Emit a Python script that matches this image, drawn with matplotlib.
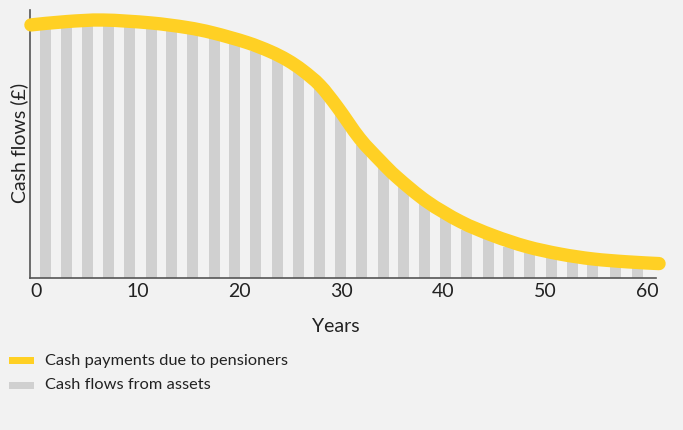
import matplotlib
matplotlib.use("Agg")
import numpy as np
import matplotlib.pyplot as plt
from matplotlib.patches import Rectangle, PathPatch
from matplotlib.path import Path

plt.rcParams['font.family'] = ['Lato', 'DejaVu Sans']

# pension payments due (yellow curve), arbitrary £ units
pay_years = [-0.5, 3.0, 6.6, 11.2, 14.8, 17.4, 20.7, 23.0, 24.7, 26.2, 27.9,
             29.6, 31.8, 33.8, 35.5, 38.4, 41.7, 44.9, 48.2, 51.5, 54.7,
             58.0, 61.2]
pay_values = [98.1, 99.4, 100.0, 98.9, 97.1, 95.0, 91.3, 87.8, 84.4, 80.4, 74.6,
              66.2, 54.0, 45.4, 38.8, 29.5, 21.7, 16.3, 12.0, 9.1, 7.2,
              6.1, 5.4]

# cash flows from assets (grey bars)
asset_years = [0.9, 3.0, 5.1, 7.1, 9.2, 11.3, 13.3, 15.4, 17.5, 19.5,
               21.6, 23.7, 25.8, 27.8, 29.9, 32.0, 34.1, 36.1, 38.2, 40.2,
               42.3, 44.4, 46.4, 48.5, 50.6, 52.7, 54.7, 56.9, 59.1]
asset_values = [96.5, 97.5, 98.0, 98.0, 97.5, 97.0, 96.0, 95.0, 93.0, 91.0,
                88.0, 85.0, 80.0, 73.5, 63.0, 51.5, 42.5, 35.5, 28.5, 23.0,
                18.5, 15.0, 12.0, 9.5, 8.0, 6.5, 5.5, 4.5, 4.0]

xticks = [0, 10, 20, 30, 40, 50, 60]

BG = '#f2f2f2'
YELLOW = '#ffd024'
GREY = '#d0d0d0'
TEXT = '#222222'

W, H = 683, 430
fig = plt.figure(figsize=(W / 100, H / 100), dpi=100, facecolor=BG)


def fx(px):
    return px / W


def fy(py):
    return 1 - py / H


def smooth_path(xs, ys):
    # Catmull-Rom segments turned into cubic Bezier pieces through every point
    pts = np.column_stack([xs, ys])
    verts = [pts[0]]
    codes = [Path.MOVETO]
    for i in range(len(pts) - 1):
        p0 = pts[max(i - 1, 0)]
        p1 = pts[i]
        p2 = pts[i + 1]
        p3 = pts[min(i + 2, len(pts) - 1)]
        verts += [p1 + (p2 - p0) / 6, p2 - (p3 - p1) / 6, p2]
        codes += [Path.CURVE4] * 3
    return Path(verts, codes)


ax = fig.add_axes([fx(30), fy(277.5), fx(656) - fx(30), fy(10) - fy(277.5)])
ax.set_facecolor(BG)

ax.bar(asset_years, asset_values, width=1.08, color=GREY, zorder=1)
ax.add_patch(PathPatch(smooth_path(pay_years, pay_values), fill=False,
                       edgecolor=YELLOW, lw=9.6, capstyle='round',
                       joinstyle='round', zorder=3, clip_on=False))

ax.set_xlim(-0.59, 60.9)
ax.set_ylim(0, 103.9)

for side in ['top', 'right']:
    ax.spines[side].set_visible(False)
for side in ['left', 'bottom']:
    ax.spines[side].set_color('#555555')
    ax.spines[side].set_linewidth(1.2)

ax.set_yticks([])
ax.set_xticks(xticks)
ax.tick_params(axis='x', length=0, pad=4, labelsize=14, labelcolor=TEXT)

fig.text(fx(336), fy(326), 'Years', ha='center', va='center',
         fontsize=14, color=TEXT)
fig.text(fx(19), fy(143), 'Cash flows (£)', ha='center', va='center',
         rotation=90, fontsize=14, color=TEXT)

# legend
legend_items = [('Cash payments due to pensioners', YELLOW, 360.5),
                ('Cash flows from assets', GREY, 385)]
for label, colour, yc in legend_items:
    fig.add_artist(Rectangle((fx(9), fy(yc + 3.5)), fx(25), fy(yc - 3.5) - fy(yc + 3.5),
                             transform=fig.transFigure, color=colour, lw=0))
    fig.text(fx(45), fy(yc), label, ha='left', va='center', fontsize=11.8, color=TEXT)

fig.savefig('out.png', dpi=100, facecolor=BG)
